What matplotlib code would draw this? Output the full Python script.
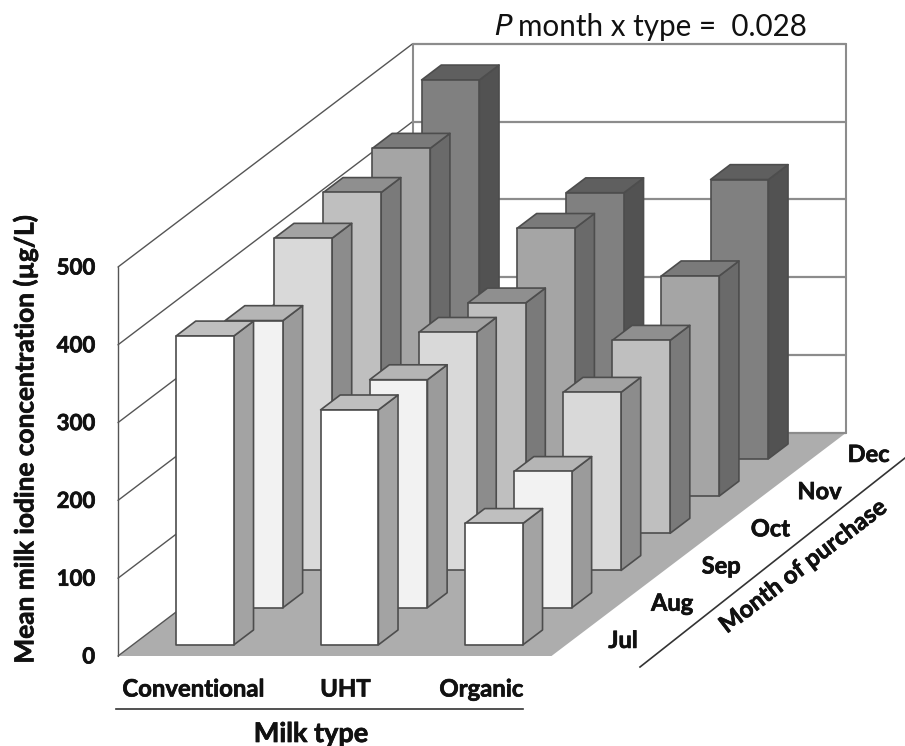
import matplotlib
matplotlib.use("Agg")
import matplotlib.pyplot as plt
from matplotlib.patches import Polygon
import matplotlib.patheffects as pe

plt.rcParams['font.family'] = ['Lato', 'DejaVu Sans']

milk_types = ["Conventional", "UHT", "Organic"]
months = ["Jul", "Aug", "Sep", "Oct", "Nov", "Dec"]
conventional = [397, 369, 427, 438, 447, 487]
uht = [302, 293, 306, 296, 344, 342]
organic = [156, 175, 229, 248, 283, 359]
y_ticks = [0, 100, 200, 300, 400, 500]

front_colors = ["#ffffff", "#f2f2f2", "#d9d9d9", "#bfbfbf", "#a5a5a5", "#808080"]
side_colors = ["#a3a3a3", "#9b9b9b", "#8c8c8c", "#7a7a7a", "#6a6a6a", "#525252"]
top_colors = ["#bfbfbf", "#b5b5b5", "#a3a3a3", "#8f8f8f", "#7a7a7a", "#5f5f5f"]

W, H = 905, 746
fig = plt.figure(figsize=(W / 100, H / 100), dpi=100)
ax = fig.add_axes([0, 0, 1, 1])
ax.set_xlim(0, W)
ax.set_ylim(H, 0)
ax.axis("off")

bold_fx = [pe.withStroke(linewidth=0.5, foreground="#111111")]


def proj(t, m, z):
    """Oblique projection of (type, month, value) to canvas position."""
    return (118 + t * 144.5 + m * 49.1, 656 - m * 37.2 - z * 0.778)


def face(pts, fc, ec="#4d4d4d", lw=1.2, z=2):
    ax.add_patch(Polygon([proj(*p) for p in pts], closed=True, facecolor=fc,
                         edgecolor=ec, linewidth=lw, joinstyle="round", zorder=z))


def line(a, b, color="#7f7f7f", lw=1.3, z=1):
    pa, pb = proj(*a), proj(*b)
    ax.plot([pa[0], pb[0]], [pa[1], pb[1]], color=color, lw=lw, zorder=z,
            solid_capstyle="round")


def label(x, y, s, size, **kw):
    ax.text(x, y, s, ha="center", va="center", fontsize=size, fontweight="bold",
            color="#111111", path_effects=bold_fx, **kw)


nt, nm = len(milk_types), len(months)
zmax = y_ticks[-1]

# floor
face([(0, 0, 0), (nt, 0, 0), (nt, nm, 0), (0, nm, 0)], "#adadad", ec="none", lw=0, z=1)

# walls and gridlines
for v in y_ticks:
    line((0, 0, v), (0, nm, v), color="#555555", lw=1.0)
    line((0, nm, v), (nt, nm, v), color="#8c8c8c", lw=1.6)
line((0, 0, 0), (0, 0, zmax), color="#555555", lw=1.0)
line((0, nm, 0), (0, nm, zmax), color="#8c8c8c", lw=1.5)
line((nt, nm, 0), (nt, nm, zmax), color="#8c8c8c", lw=1.5)

# bars, back to front
series = [conventional, uht, organic]
order = 3
for j in reversed(range(nm)):
    for i, vals in enumerate(series):
        v = vals[j]
        t0, t1 = i + 0.3, i + 0.7
        m0, m1 = j + 0.3, j + 0.7
        order += 1
        face([(t1, m0, 0), (t1, m1, 0), (t1, m1, v), (t1, m0, v)], side_colors[j], z=order)
        face([(t0, m0, v), (t1, m0, v), (t1, m1, v), (t0, m1, v)], top_colors[j], z=order)
        face([(t0, m0, 0), (t1, m0, 0), (t1, m0, v), (t0, m0, v)], front_colors[j], z=order)

# value axis labels
for v in y_ticks:
    x, y = proj(0, 0, v)
    ax.text(x - 23, y + 1, str(v), ha="right", va="center", fontsize=16,
            fontweight="bold", color="#111111", path_effects=bold_fx)
label(25, 439, "Mean milk iodine concentration (µg/L)", 18.9, rotation=90)

# category labels
for name, cx in zip(milk_types, [193.5, 345.5, 481.5]):
    label(cx, 689, name, 17.2)
ax.plot([116, 523], [709, 709], color="#333333", lw=1.2)
label(311, 734, "Milk type", 19.5)

# month labels
for j, name in enumerate(months):
    x, y = proj(nt, j + 0.5, 0)
    label(x + 47, y + 3, name, 17)
ax.plot([640, 905], [667, 458], color="#333333", lw=1.2)
label(803, 566, "Month of purchase", 17.3, rotation=37.5, rotation_mode="anchor")

# annotation
ax.text(494, 27, r"$\mathit{P}$", ha="left", va="center", fontsize=21, color="#111111",
        math_fontfamily="dejavusans")
ax.text(518, 27, "month x type =  0.028", ha="left", va="center", fontsize=21.3, color="#111111")

fig.savefig("out.png", dpi=100)
